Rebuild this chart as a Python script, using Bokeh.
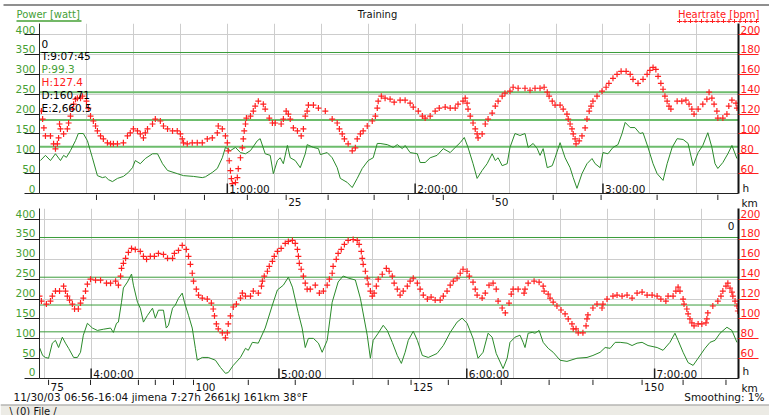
from bokeh.plotting import figure
from bokeh.models import (Range1d, LinearAxis, FixedTicker, Span, Label, Grid,
                          CustomJSTickFormatter)
from bokeh.layouts import column
from bokeh.core.properties import value
from bokeh.embed import file_html
from bokeh.resources import INLINE

FONT = "DejaVu Sans"
FS = "10.5px"
GREEN_TXT = "#45a035"
RED = "#ff2020"
POWER_COLOR = "#2a8a2a"
DARK = "#222222"

# ---------------- data ----------------
# upper panel: elapsed minutes / watt
TOP_P_T = [0.3, 1.9, 3.5, 5.1, 6.7, 7.7, 8.6, 9.9, 11.5, 12.4,
           14.0, 15.3, 16.9, 18.5, 20.1, 21.1, 22.0, 23.3, 24.9, 26.8,
           28.4, 29.7, 30.6, 32.2, 33.8, 36.1, 37.7, 39.3, 40.9, 44.0,
           46.0, 49.2, 52.0, 53.0, 55.2, 56.8, 58.4, 59.4, 61.0, 62.6,
           64.2, 65.8, 67.4, 69.6, 70.5, 72.1, 73.7, 74.7, 76.0, 76.9,
           77.9, 79.2, 80.1, 81.7, 83.3, 84.9, 85.5, 87.5, 89.1, 89.7,
           91.9, 93.5, 95.1, 96.1, 98.3, 99.9, 101.5, 103.1, 105.0, 106.6,
           107.9, 108.8, 111.1, 113.0, 114.3, 115.9, 116.8, 118.4, 120.7, 121.6,
           123.2, 124.8, 127.0, 129.0, 131.2, 132.8, 134.4, 135.7, 136.9, 138.5,
           139.8, 141.4, 143.0, 144.6, 145.6, 146.5, 147.8, 149.4, 150.3, 151.9,
           153.5, 155.1, 156.1, 157.7, 159.0, 159.9, 160.9, 162.2, 163.8, 164.7,
           166.3, 167.9, 169.5, 170.5, 171.7, 173.3, 174.9, 176.5, 177.5, 179.1,
           180.0, 181.6, 183.2, 184.8, 186.1, 187.1, 188.7, 190.2, 191.8, 192.8,
           194.4, 196.0, 197.3, 199.2, 200.5, 202.1, 203.7, 205.6, 207.2, 208.8,
           210.4, 211.9, 213.5, 214.8, 215.8, 216.7, 218.3, 219.9, 221.2, 222.8]
TOP_P_W = [83, 96, 83, 100, 83, 96, 91, 108, 133, 151,
           151, 133, 90, 45, 40, 42, 35, 30, 38, 43,
           53, 65, 83, 75, 88, 100, 100, 75, 58, 50,
           45, 43, 40, 42, 53, 63, 90, 116, 108, 116,
           103, 100, 108, 133, 138, 100, 96, 50, 83, 90,
           75, 121, 90, 83, 65, 100, 123, 116, 113, 98,
           103, 90, 65, 38, 28, 15, 38, 63, 83, 90,
           126, 126, 123, 116, 123, 113, 121, 103, 100, 78,
           78, 90, 96, 113, 103, 116, 128, 141, 116, 75,
           38, 58, 75, 100, 83, 90, 70, 75, 116, 151,
           146, 151, 116, 126, 113, 96, 113, 65, 70, 90,
           128, 90, 65, 40, 13, 50, 75, 88, 75, 65,
           103, 100, 116, 123, 151, 179, 166, 166, 151, 153,
           116, 75, 50, 33, 75, 116, 138, 136, 126, 70,
           103, 121, 153, 116, 75, 63, 78, 100, 121, 88]

TOP_HR_T = [0.6, 1.0, 1.4, 1.9, 3.5, 4.5, 5.1, 5.7, 6.1, 6.4,
            6.7, 7.7, 8.9, 9.3, 9.9, 10.5, 10.9, 11.5, 12.1, 13.1,
            13.7, 15.0, 15.6, 16.3, 17.2, 17.9, 18.5, 19.5, 20.4, 21.7,
            22.7, 23.6, 24.9, 26.8, 28.1, 29.0, 30.0, 31.3, 32.2, 33.2,
            33.8, 34.5, 36.1, 37.0, 38.6, 39.6, 40.9, 42.5, 44.0, 45.0,
            45.6, 46.0, 47.2, 48.8, 50.4, 52.0, 53.6, 55.2, 56.8, 57.1,
            58.4, 59.4, 60.0, 60.3, 60.6, 61.0, 61.3, 61.6, 62.6, 63.2,
            63.5, 64.2, 64.8, 65.1, 65.4, 65.8, 66.1, 67.4, 68.3, 68.9,
            69.9, 71.5, 72.1, 73.4, 74.4, 75.3, 77.2, 77.9, 78.8, 79.5,
            80.1, 81.1, 82.4, 83.6, 84.3, 84.9, 85.5, 85.9, 87.5, 89.1,
            91.3, 93.5, 95.1, 95.8, 96.7, 97.4, 98.6, 99.9, 100.9, 101.5,
            102.5, 103.4, 104.7, 106.3, 107.3, 107.9, 108.2, 109.2, 110.4, 112.0,
            113.3, 115.2, 116.8, 118.4, 119.4, 121.0, 122.3, 123.2, 124.8, 126.4,
            127.7, 129.6, 131.2, 132.8, 133.7, 135.3, 136.0, 136.6, 136.9, 137.6,
            138.5, 139.2, 139.8, 140.1, 141.4, 142.4, 143.3, 144.6, 145.6, 146.5,
            147.8, 148.7, 150.3, 151.3, 152.9, 155.1, 156.7, 158.3, 159.9, 161.2,
            162.2, 162.8, 163.8, 164.7, 166.3, 167.3, 168.5, 168.9, 169.5, 170.1,
            170.5, 171.1, 171.4, 172.4, 173.3, 174.3, 174.9, 175.6, 176.2, 176.8,
            178.1, 179.7, 181.0, 181.9, 183.2, 184.5, 185.8, 187.4, 188.7, 189.6,
            191.2, 192.8, 194.1, 195.0, 196.0, 196.9, 197.6, 198.5, 199.2, 199.8,
            200.5, 201.1, 201.7, 203.7, 205.2, 206.5, 207.5, 208.4, 209.1, 210.4,
            211.9, 213.2, 213.9, 214.8, 215.5, 216.4, 216.7, 218.3, 219.6, 220.2,
            221.2, 222.5, 222.8]
TOP_HR_BPM = [123, 115, 106, 98, 98, 90, 85, 90, 96, 110,
              105, 100, 105, 111, 118, 125, 130, 135, 136, 136,
              138, 133, 126, 118, 113, 108, 103, 98, 95, 91,
              90, 90, 90, 91, 98, 101, 105, 103, 100, 96,
              101, 105, 110, 115, 113, 108, 105, 103, 103, 100,
              95, 91, 90, 91, 91, 91, 95, 96, 101, 108,
              105, 98, 91, 83, 73, 63, 55, 50, 51, 56,
              65, 76, 86, 95, 103, 110, 116, 118, 123, 128,
              133, 130, 125, 116, 111, 111, 110, 115, 123, 120,
              115, 106, 103, 98, 105, 118, 123, 129, 129, 126,
              123, 115, 111, 105, 100, 95, 90, 83, 86, 95,
              100, 103, 108, 113, 118, 126, 133, 138, 136, 135,
              132, 134, 134, 131, 127, 123, 118, 116, 118, 123,
              126, 127, 126, 126, 130, 133, 136, 131, 125, 118,
              111, 105, 100, 96, 100, 110, 115, 121, 128, 133,
              138, 141, 143, 147, 146, 146, 144, 146, 146, 147,
              142, 138, 133, 129, 129, 125, 120, 115, 110, 105,
              100, 95, 90, 93, 98, 106, 115, 123, 128, 133,
              138, 143, 147, 151, 156, 160, 163, 163, 160, 155,
              151, 155, 160, 164, 167, 165, 158, 151, 145, 138,
              133, 128, 125, 133, 133, 134, 130, 125, 120, 125,
              130, 135, 142, 136, 130, 123, 116, 116, 120, 128,
              134, 131, 126]

# lower panel
BOT_P_T = [223.5, 224.5, 225.4, 226.4, 227.6, 228.6, 229.6, 230.8, 231.8, 232.8,
           234.4, 235.6, 236.6, 237.5, 238.8, 240.4, 242.0, 243.9, 246.2, 247.1,
           248.1, 248.7, 249.7, 250.3, 251.6, 252.9, 253.5, 254.8, 255.7, 256.7,
           258.0, 259.6, 260.5, 261.5, 263.1, 264.0, 264.7, 266.0, 266.9, 267.9,
           269.1, 269.8, 271.1, 272.3, 273.3, 273.9, 275.5, 277.4, 279.7, 281.3,
           282.9, 283.8, 285.4, 287.7, 289.3, 290.2, 291.5, 293.4, 295.6, 297.9,
           299.5, 301.4, 303.0, 304.3, 306.2, 307.4, 308.4, 309.4, 311.0, 312.6,
           313.8, 315.4, 317.0, 318.9, 320.5, 322.1, 324.4, 326.0, 328.2, 329.2,
           330.1, 331.7, 333.3, 334.6, 336.2, 337.8, 339.1, 340.3, 341.3, 342.9,
           344.2, 345.8, 347.7, 350.5, 352.5, 354.7, 356.9, 358.5, 360.1, 362.0,
           363.6, 365.2, 366.8, 368.1, 369.4, 371.6, 372.9, 373.8, 375.4, 377.0,
           378.0, 378.6, 379.6, 380.9, 381.8, 383.1, 384.4, 386.0, 387.6, 389.8,
           392.0, 395.2, 398.4, 400.3, 402.6, 404.2, 405.8, 407.4, 409.0, 411.2,
           412.8, 414.4, 416.0, 417.9, 420.8, 422.7, 424.9, 426.5, 427.5, 429.1,
           430.7, 432.3, 433.9, 436.1, 437.7, 439.3, 440.9, 443.1, 444.7, 446.3]
BOT_P_W = [78, 58, 53, 51, 89, 96, 78, 104, 89, 76,
           53, 53, 66, 109, 139, 127, 121, 124, 127, 116,
           139, 142, 192, 228, 243, 263, 235, 192, 177, 142,
           159, 177, 152, 172, 172, 127, 134, 177, 185, 202,
           215, 192, 159, 127, 76, 46, 53, 53, 46, 28,
           13, 15, 33, 53, 76, 71, 91, 89, 127, 185,
           223, 235, 255, 230, 164, 127, 78, 101, 101, 89,
           66, 96, 192, 243, 258, 253, 248, 202, 109, 51,
           96, 114, 134, 121, 91, 58, 38, 66, 96, 119,
           96, 58, 53, 63, 83, 116, 142, 152, 139, 101,
           51, 66, 114, 104, 63, 25, 51, 91, 104, 109,
           91, 78, 114, 116, 114, 121, 91, 76, 66, 46,
           43, 51, 53, 58, 66, 78, 76, 91, 91, 89,
           83, 89, 91, 83, 78, 71, 91, 114, 96, 66,
           40, 33, 51, 76, 91, 96, 114, 129, 121, 91]

BOT_HR_T = [223.5, 224.1, 225.7, 227.0, 227.6, 228.6, 229.9, 231.2, 231.8, 232.4,
            233.1, 234.0, 234.7, 235.9, 236.6, 237.5, 238.2, 238.8, 239.8, 241.4,
            243.0, 244.9, 246.2, 247.8, 248.7, 249.4, 249.7, 250.3, 251.0, 251.9,
            252.9, 254.1, 255.7, 256.7, 257.7, 258.9, 260.2, 261.5, 263.1, 264.4,
            266.0, 266.6, 267.9, 269.1, 270.4, 271.1, 271.7, 272.3, 272.7, 273.6,
            274.3, 275.5, 277.1, 278.4, 279.0, 279.4, 280.0, 280.6, 281.9, 282.9,
            283.5, 283.8, 284.5, 285.4, 286.4, 287.7, 288.3, 289.3, 290.9, 291.8,
            293.4, 294.4, 294.7, 295.3, 296.3, 296.9, 297.9, 298.5, 299.5, 300.7,
            302.0, 303.0, 304.3, 305.2, 305.9, 306.2, 306.5, 307.1, 307.8, 308.4,
            309.0, 310.0, 311.6, 312.9, 314.2, 315.4, 316.1, 317.0, 317.3, 318.3,
            318.9, 319.9, 320.9, 322.1, 323.7, 325.0, 325.6, 326.3, 326.6, 326.9,
            327.6, 328.2, 328.5, 329.2, 329.8, 330.4, 331.1, 331.7, 333.0, 334.3,
            335.2, 336.2, 336.8, 337.8, 338.7, 339.7, 341.0, 341.9, 342.9, 344.2,
            345.1, 346.1, 347.4, 348.6, 349.9, 351.5, 352.5, 353.7, 354.7, 355.7,
            356.9, 357.9, 358.8, 360.1, 360.8, 362.0, 362.7, 363.3, 364.9, 365.9,
            367.1, 368.4, 369.4, 370.0, 371.3, 372.3, 373.5, 374.2, 374.8, 376.4,
            378.3, 378.6, 379.6, 381.5, 383.1, 384.4, 384.7, 386.0, 386.6, 387.6,
            388.8, 390.1, 391.4, 392.4, 393.6, 394.0, 394.9, 395.6, 397.1, 398.1,
            398.4, 398.7, 400.3, 401.6, 403.2, 403.5, 404.8, 406.7, 408.0, 409.6,
            411.2, 412.8, 414.4, 416.0, 417.6, 419.2, 420.8, 422.0, 423.6, 424.3,
            425.9, 426.8, 427.5, 428.1, 429.1, 429.4, 430.3, 430.7, 431.3, 431.9,
            432.6, 433.9, 435.1, 436.4, 436.7, 437.0, 438.6, 440.2, 441.2, 441.8,
            442.8, 443.4, 444.1, 444.7, 445.0, 445.7, 446.3, 446.6]
BOT_HR_BPM = [123, 118, 115, 118, 123, 128, 128, 133, 128, 123,
              119, 115, 110, 110, 116, 121, 128, 135, 140, 139,
              139, 136, 136, 138, 134, 143, 151, 156, 161, 167,
              171, 170, 168, 163, 160, 163, 163, 166, 165, 161,
              161, 166, 169, 174, 170, 163, 155, 146, 138, 130,
              124, 121, 120, 116, 110, 103, 95, 90, 86, 81,
              86, 95, 103, 112, 115, 121, 126, 123, 123, 128,
              126, 133, 138, 143, 148, 153, 158, 163, 168, 171,
              176, 178, 179, 176, 170, 163, 156, 150, 143, 136,
              130, 130, 134, 126, 128, 134, 140, 146, 153, 160,
              166, 170, 175, 179, 180, 179, 175, 168, 161, 155,
              148, 141, 135, 128, 123, 126, 133, 140, 145, 151,
              148, 143, 136, 130, 124, 128, 133, 138, 141, 136,
              130, 124, 120, 122, 119, 119, 123, 128, 134, 138,
              141, 146, 150, 148, 143, 137, 130, 124, 121, 126,
              134, 136, 130, 118, 111, 106, 116, 125, 130, 130,
              126, 130, 136, 138, 137, 133, 128, 125, 121, 117,
              113, 109, 105, 100, 95, 90, 90, 86, 86, 93,
              100, 104, 111, 115, 111, 115, 120, 123, 124, 123,
              124, 121, 126, 127, 124, 124, 123, 120, 118, 123,
              123, 128, 132, 128, 120, 115, 110, 105, 100, 96,
              93, 95, 95, 96, 100, 106, 113, 118, 123, 128,
              133, 136, 131, 127, 123, 118, 113, 108]

# distance marks (km) and the elapsed minute at which they were reached
KM_TOP = [5, 10, 15, 20, 25, 30, 35, 40, 45, 50, 55, 60, 65, 70]
KM_TOP_T = [18.2, 36.7, 52.7, 66.4, 78.8, 92.2, 106.9, 117.8, 129.0, 144.9,
            164.1, 179.4, 197.3, 216.7]
KM_BOT = [75, 80, 85, 90, 95, 100, 105, 110, 115, 120, 125, 130, 135, 140,
          145, 150, 155, 160]
KM_BOT_T = [226.4, 239.8, 255.1, 260.5, 266.3, 272.7, 290.2, 305.2, 323.7,
            334.9, 342.2, 354.1, 371.0, 386.3, 400.3, 416.0, 429.1, 442.8]

HOURS_TOP = [60, 120, 180]
HOUR_LABELS_TOP = ["1:00:00", "2:00:00", "3:00:00"]
HOURS_BOT = [240, 300, 360, 420]
HOUR_LABELS_BOT = ["4:00:00", "5:00:00", "6:00:00", "7:00:00"]

WATT_TICKS = [0, 50, 100, 150, 200, 250, 300, 350, 400]
BPM_TICKS = [60, 80, 100, 120, 140, 160, 180, 200]
ZONES_BPM = [182, 142, 114, 87]
STATS = ["0", "T:9:07:45", "P:99.3", "H:127.4", "D:160.71", "E:2,660.5"]
STAT_COLORS = ["#000000", "#000000", GREEN_TXT, RED, "#000000", "#000000"]
STATUS = "11/30/03 06:56-16:04 jimena 7:27h 2661kJ 161km 38\u00b0F"
SMOOTHING = "Smoothing: 1%"

assert len(TOP_P_T) == len(TOP_P_W)
assert len(TOP_HR_T) == len(TOP_HR_BPM)
assert len(BOT_P_T) == len(BOT_P_W)
assert len(BOT_HR_T) == len(BOT_HR_BPM)

# ---------------- layout constants (pixels) ----------------
PAGE_W = 769
F_LEFT, F_RIGHT = 39, 738           # frame edges
FRAME_W = F_RIGHT - F_LEFT
FRAME_H = 170
W_MAX = 428.0
HR_MIN, HR_PER_W = 40.0, 0.4
SPAN_MIN = 223.3
XS = FRAME_W / SPAN_MIN
YS = FRAME_H / W_MAX


def hr_to_w(b):
    return (b - HR_MIN) / HR_PER_W


def blank_axis(**kw):
    base = dict(formatter=CustomJSTickFormatter(code="return ''"),
                major_label_text_font_size="0px", major_label_standoff=0,
                minor_tick_out=0, minor_tick_in=0, major_tick_in=0)
    base.update(kw)
    return LinearAxis(**base)


def label_axis(tick_pos, tick_txt, color, standoff, **kw):
    fmt = CustomJSTickFormatter(args=dict(tpos=tick_pos, ttxt=tick_txt), code="""
        for (let i = 0; i < tpos.length; i++) {
            if (Math.abs(tpos[i] - tick) < 1e-6) { return ttxt[i]; }
        }
        return '';
    """)
    return LinearAxis(ticker=FixedTicker(ticks=tick_pos), formatter=fmt,
                      major_label_standoff=standoff, major_tick_out=0, major_tick_in=0,
                      minor_tick_out=0, minor_tick_in=0, axis_line_color=None,
                      major_label_text_color=color, major_label_text_font=FONT,
                      major_label_text_font_size=FS, **kw)


def strip(height, x_range, y_top):
    s = figure(width=PAGE_W, height=height, x_range=x_range,
               y_range=Range1d(y_top + height, y_top),
               x_axis_type=None, y_axis_type=None, output_backend="svg",
               toolbar_location=None, min_border=0, min_border_left=0,
               min_border_right=0, min_border_top=0, min_border_bottom=0,
               frame_align=False)
    s.outline_line_color = None
    s.background_fill_color = "white"
    s.border_fill_color = "white"
    return s


def txt(f, x, y, text, color="#111111", align="left", size=FS, x_offset=0):
    f.text(x=x if isinstance(x, list) else [x],
           y=y if isinstance(y, list) else [y],
           text=text if isinstance(text, list) else [text],
           text_color=color, text_align=align, text_baseline="middle",
           text_font=value(FONT), text_font_size=size, x_offset=x_offset)


def X(t0, px):
    return t0 + (px - F_LEFT) / XS


def panel(t0, pt, pw, ht, hb, hours, hlabels, lab_dy, h_dy, zone_styles):
    p = figure(width=PAGE_W, height=FRAME_H + 1, x_range=Range1d(t0, t0 + SPAN_MIN),
               y_range=Range1d(0, W_MAX), x_axis_type=None, y_axis_type=None,
               output_backend="svg", toolbar_location=None,
               min_border_left=F_LEFT, min_border_right=PAGE_W - F_RIGHT,
               min_border_top=0, min_border_bottom=1, frame_align=False)
    p.extra_y_ranges = {"hr": Range1d(HR_MIN, HR_MIN + HR_PER_W * W_MAX)}
    p.outline_line_color = None
    p.border_fill_color = "white"
    p.background_fill_color = "white"

    p.add_layout(Grid(dimension=0, ticker=FixedTicker(ticks=list(range(0, 465, 15))),
                      grid_line_color="#cdcdcd"))
    p.add_layout(Grid(dimension=1, ticker=FixedTicker(ticks=WATT_TICKS),
                      grid_line_color="#cdcdcd"))

    # left: tick marks, then labels sitting just above them
    p.add_layout(blank_axis(ticker=FixedTicker(ticks=WATT_TICKS), major_tick_out=15,
                            axis_line_color=DARK, major_tick_line_color=DARK), "left")
    p.add_layout(label_axis([round(w + lab_dy / YS, 3) for w in WATT_TICKS],
                            [str(w) for w in WATT_TICKS], GREEN_TXT, -11), "left")
    # right: heart-rate scale
    p.add_layout(blank_axis(y_range_name="hr", ticker=FixedTicker(ticks=BPM_TICKS),
                            major_tick_out=20, axis_line_color="#111111",
                            axis_line_width=2, major_tick_line_color=RED), "right")
    p.add_layout(label_axis([round(b + lab_dy * HR_PER_W / YS, 3) for b in BPM_TICKS],
                            [str(b) for b in BPM_TICKS], RED, -18,
                            y_range_name="hr"), "right")
    p.add_layout(label_axis([round(h_dy / YS, 3)], ["h"], "#111111", -21), "right")
    # bottom frame edge
    p.add_layout(blank_axis(ticker=FixedTicker(ticks=[]), major_tick_out=0,
                            axis_line_color=DARK), "below")

    for b, (col, lw) in zip(ZONES_BPM, zone_styles):
        p.add_layout(Span(location=hr_to_w(b), dimension="width", line_color=col,
                          line_width=lw, level="underlay"))

    p.line(pt, pw, line_color=POWER_COLOR, line_width=1)
    p.scatter(ht, hb, marker="cross", size=6, line_color=RED, line_width=1.2,
              y_range_name="hr")

    tick_h = 10 / YS
    p.segment(x0=hours, y0=[0] * len(hours), x1=hours, y1=[tick_h] * len(hours),
              line_color=DARK, line_width=1.5)
    p.text(x=hours, y=[0] * len(hours), text=hlabels, x_offset=2, y_offset=1,
           text_baseline="bottom", text_align="left", text_font=value(FONT),
           text_font_size=FS, text_color="#111111")
    return p


def km_strip(t0, km, km_t, height, y_top):
    xr = Range1d(X(t0, 0), X(t0, PAGE_W))
    s = strip(height, xr, y_top)
    s.segment(x0=km_t, y0=[y_top] * len(km_t), x1=km_t, y1=[y_top + 5.5] * len(km_t),
              line_color=DARK, line_width=1)
    lt = [t for k, t in zip(km, km_t) if k % 25 == 0]
    lk = [str(k) for k in km if k % 25 == 0]
    txt(s, lt, [y_top + 7.5] * len(lt), lk, x_offset=2)
    txt(s, X(t0, 741), y_top + 8.5, "km")
    return s


# ---------------- header ----------------
hdr = strip(23, Range1d(0, PAGE_W), 0)
hdr.line([3, PAGE_W], [4.5, 4.5], line_color="#6a6a6a", line_width=1.5)
txt(hdr, 16, 14, "Power [watt]", GREEN_TXT, "left", "10px")
hdr.line([16, 81], [20.5, 20.5], line_color=GREEN_TXT, line_width=1.5)
txt(hdr, 377, 14, "Training", "#111111", "center", "10px")
txt(hdr, 759, 14, "Heartrate [bpm]", RED, "right", "10px")
hdr.scatter([679 + 5.5 * i for i in range(15)], [21] * 15, marker="cross", size=5,
            line_color=RED, line_width=1)

# ---------------- upper panel (frame y 23..193 on the page) ----------------
top = panel(0.0, TOP_P_T, TOP_P_W, TOP_HR_T, TOP_HR_BPM, HOURS_TOP,
            HOUR_LABELS_TOP, 5, 5,
            [("#3a9c3a", 1), ("#6cbc6c", 2), ("#6cbc6c", 2), ("#6cbc6c", 2)])
for i, (s_, c_) in enumerate(zip(STATS, STAT_COLORS)):
    top.add_layout(Label(x=X(0.0, 41), y=(193 - (43 + i * 12.8)) / YS,
                         text=s_, text_color=c_, text_align="left", text_baseline="middle",
                         text_font=FONT, text_font_size=FS))
s1 = km_strip(0.0, KM_TOP, KM_TOP_T, 14, 194)

# ---------------- lower panel (frame y 208..378 on the page) ----------------
bot = panel(223.5, BOT_P_T, BOT_P_W, BOT_HR_T, BOT_HR_BPM, HOURS_BOT,
            HOUR_LABELS_BOT, 6, 7, [("#3a9c3a", 1)] * 4)
bot.add_layout(Label(x=X(223.5, 734), y=(378 - 225) / YS, text="0", text_color="#111111",
                     text_align="right", text_baseline="middle", text_font=FONT,
                     text_font_size=FS))

ftr = km_strip(223.5, KM_BOT, KM_BOT_T, 36, 379)
txt(ftr, X(223.5, 13), 396, STATUS)
txt(ftr, X(223.5, 764), 396, SMOOTHING, align="right")
ftr.quad(left=[X(223.5, 0)], right=[X(223.5, PAGE_W)], bottom=[415], top=[404],
         fill_color="#ecebe5", line_color=None)
ftr.line([X(223.5, 0), X(223.5, PAGE_W)], [404.5, 404.5], line_color="#9a9a9a", line_width=1)
txt(ftr, X(223.5, 9), 410.5, "\\ (0) File /", size="10px")

layout = column(hdr, top, s1, bot, ftr, spacing=0)
open("out.html", "w").write(file_html(layout, INLINE))
